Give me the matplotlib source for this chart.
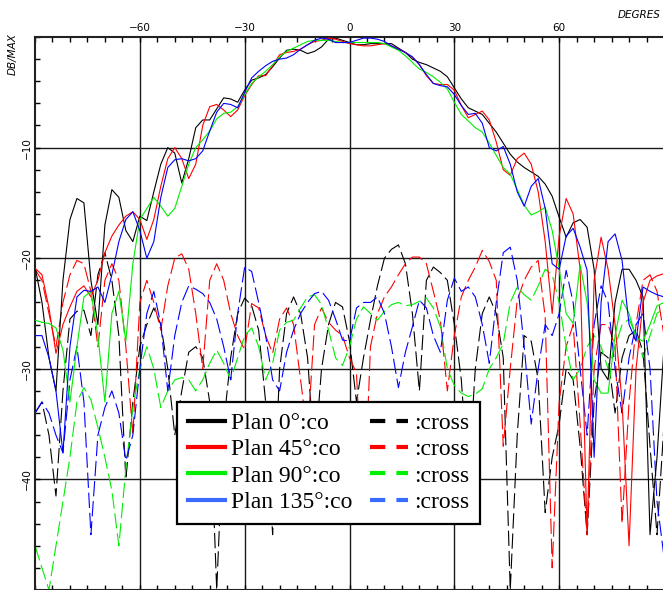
import numpy as np
import matplotlib
matplotlib.use("Agg")
import matplotlib.pyplot as plt
from matplotlib.lines import Line2D

plt.rcParams['lines.scale_dashes'] = False

# angles in degrees, one sample every 2 degrees
angles = np.arange(-90, 91, 2)

# co-polar cuts (dB / max)
black_co = [-20.8, -24, -29, -32, -22, -16.5, -14.6, -15, -22, -26,
            -17, -13.8, -14.5, -17.5, -18.5, -16.2, -16.6, -14, -11.5, -10,
            -10.5, -13.2, -11, -8.2, -7.5, -7.5, -6.5, -5.5, -5.6, -5.9,
            -4.8, -3.9, -3.7, -3.4, -2.7, -1.9, -1.2, -1.1, -1.2, -1.5,
            -1.3, -0.9, -0.2, -0.1, -0.3, -0.5, -0.7, -0.7, -0.6, -0.6,
            -0.6, -0.6, -1.0, -1.4, -2.0, -2.3, -2.5, -2.8, -3.1, -3.6,
            -4.6, -5.6, -6.4, -6.7, -7.0, -7.8, -8.6, -9.6, -10.6, -11.3,
            -11.8, -12.2, -12.6, -13.3, -14.4, -16.3, -18.1, -16.8, -16.5, -17.2,
            -21, -30, -31, -24, -21, -21, -22, -23.5, -45, -38,
            -28]
red_co = [-20.9, -21.5, -24.5, -28.6, -26, -24.4, -23, -22.5, -23.5, -22,
          -19.5, -18, -17, -16.2, -15.8, -16.5, -18.3, -16.5, -13.5, -11,
          -10, -11, -12.8, -11.5, -8, -6.3, -6.1, -6.6, -7.2, -6.6,
          -5.3, -4.3, -3.5, -3.5, -2.6, -1.6, -1.4, -1.3, -1.1, -0.7,
          -0.4, -0.3, -0.1, -0.2, -0.4, -0.6, -0.7, -0.8, -0.8, -0.7,
          -0.6, -0.8, -1.1, -1.4, -1.8, -2.5, -3.5, -4.2, -4.3, -4.3,
          -4.8, -6.2, -7.3, -7.0, -6.7, -7.5, -9.5, -12, -12.5, -11,
          -10.5, -11.5, -14, -18.5, -25, -18, -14.6, -16, -21, -45,
          -22, -18.1, -21, -26, -33, -46, -30, -24, -22, -21.6,
          -21.4]
green_co = [-25.6, -25.8, -25.9, -26.3, -28.3, -33, -28, -23.5, -23, -27,
            -33, -25, -23, -27.5, -20.5, -16.5, -15.5, -14.5, -15.3, -16.2,
            -15.5, -13.5, -11.5, -10, -9.3, -8.5, -7.4, -6.9, -6.8, -6.3,
            -5.2, -4.2, -3.6, -3.1, -2.5, -1.8, -1.3, -1.0, -0.7, -0.4,
            -0.3, -0.3, -0.3, -0.4, -0.5, -0.5, -0.5, -0.5, -0.5, -0.5,
            -0.6, -0.9, -1.2, -1.7, -2.3, -2.9, -3.2, -3.6, -4.1, -4.7,
            -5.9, -7.0, -7.6, -8.2, -8.6, -9.6, -10.7, -11.8, -12.4, -13.8,
            -15.2, -16.1, -15.8, -15.4, -17.5, -21, -25, -25.9, -20.6, -24,
            -31, -32.2, -32.2, -27, -23.8, -25, -27.2, -27.5, -26, -24.3,
            -24]
blue_co = [-27, -27, -29, -32, -37.6, -28, -23.5, -22.9, -23, -22.6,
           -24, -21.5, -18.5, -16.5, -15.8, -17.5, -20, -18.5, -14.5, -11.8,
           -11.1, -11, -11.2, -11, -10.3, -8.5, -6.8, -6, -6.1, -6.4,
           -5, -3.7, -3.1, -2.6, -2.2, -2.0, -1.9, -1.6, -1.1, -0.7,
           -0.3, -0.1, -0.2, -0.5, -0.5, -0.5, -0.3, -0.1, -0.1, -0.2,
           -0.4, -0.8, -1.1, -1.4, -1.8, -2.5, -3.4, -4.2, -4.4, -4.5,
           -5.2, -6.2, -7.0, -6.9, -7.8, -10, -10.3, -9.9, -11.5, -14,
           -15.3, -13.5, -12.8, -15.5, -20.5, -21, -18, -17.3, -19, -21.1,
           -38, -24, -18.5, -17.8, -20.2, -26, -27.5, -22.6, -23, -23.3,
           -23.5]

# cross-polar cuts (dB / max)
black_x = [-34, -33, -36, -41.5, -32, -25.5, -24.8, -24.7, -27, -21.5,
           -19.5, -22, -27, -40, -33, -28, -26, -24.5, -26, -30,
           -36, -32, -28.5, -28, -29, -33, -50, -35, -29, -25,
           -23.6, -24.3, -26.5, -33, -45, -30, -25, -23.5, -25, -29,
           -38, -30, -26, -24, -24.4, -27.5, -33, -29, -25.6, -22.5,
           -20, -19.2, -18.8, -20.5, -25, -32, -22, -20.8, -21.3, -22,
           -26, -31, -40, -30, -25, -23.5, -25, -29, -50, -36,
           -27, -27.5, -31, -43, -38, -35, -30, -31, -37, -45,
           -33, -28.5, -29, -34, -29, -27, -26.5, -28.5, -37, -45,
           -35]
red_x = [-21, -22, -25, -28, -24, -21.5, -20.2, -20.5, -23, -28,
         -22, -20.5, -22, -28, -36, -24, -22, -24, -26.5, -22.5,
         -20, -19.6, -21, -25, -30, -22, -20.5, -22, -25, -27,
         -28.3, -24.1, -24.5, -27, -28.6, -25.5, -24.5, -26, -31, -36,
         -26, -24.5, -25.8, -26.5, -27, -29, -30.4, -44, -28, -25,
         -23.5, -22.6, -21.5, -20.5, -19.9, -19.9, -20.5, -23, -25.6, -32,
         -27, -23.5, -22, -20.8, -19.3, -20.3, -22, -37, -30, -23.8,
         -22, -20.8, -20.2, -25.3, -48, -33, -28, -26, -35, -45,
         -30, -26, -26, -28, -44, -33, -26, -22, -21.5, -23,
         -27]
green_x = [-46, -48, -50, -46, -42, -38, -33, -31.7, -32.8, -35.3,
           -38, -41, -46, -39, -33.5, -30, -28, -30, -33.5, -32,
           -31, -30.8, -31, -32, -31, -29.5, -28.3, -29.5, -31, -29,
           -27, -26.3, -28, -31, -29.5, -26.5, -25.8, -25.6, -24.5, -23.5,
           -23.3, -24.2, -26.5, -29, -29.7, -28, -25.5, -24.4, -25, -25.6,
           -24.8, -24.2, -24, -24.3, -24.2, -23.9, -23.6, -24.5, -26.2, -30,
           -31.5, -32.2, -32.5, -32.3, -31.8, -30, -29, -27.7, -24, -22.6,
           -23.3, -23.8, -22.5, -21, -21.5, -24, -28, -31, -30, -28,
           -27, -28, -30, -28, -26, -25.5, -27, -29, -27, -25,
           -24.5]
blue_x = [-34, -33, -34, -36, -37.6, -31, -28, -33, -45, -36,
          -33.5, -32, -34, -38.3, -36, -30, -25, -23, -26, -32,
          -27, -24, -22.5, -22.8, -23.2, -24, -25.5, -28, -31, -25,
          -20.8, -21.2, -24, -27, -31, -32, -28.5, -26.5, -25, -24,
          -23.2, -23, -23.8, -25.5, -27.4, -27.5, -24.5, -24, -24, -23.5,
          -25, -28, -31.7, -28.5, -26.2, -23.8, -24.5, -27, -28.5, -23.8,
          -21.8, -23, -22.6, -23.5, -26, -29.5, -24, -19.5, -19, -22,
          -28, -35, -30, -26, -27, -25, -21.1, -24, -30, -36,
          -26, -22.5, -24, -30, -34, -29, -26, -25, -30, -42,
          -47]

labels = ['Plan 0°:co', 'Plan 45°:co', 'Plan 90°:co', 'Plan 135°:co']
colors = ['black', '#ff0000', '#00ee00', '#0000ff']
legend_colors = ['black', '#ff0000', '#00ee00', '#3a6bff']

fig = plt.figure(figsize=(6.63, 5.90), dpi=100)
ax = fig.add_axes([35 / 663, 0, 629 / 663, 553 / 590])

co_sets = [black_co, red_co, green_co, blue_co]
x_sets = [black_x, red_x, green_x, blue_x]

for vals, c in zip(x_sets, colors):
    ax.plot(angles, vals, color=c, lw=0.8, dashes=(11, 3.5), zorder=2)
for vals, c in zip(co_sets, colors):
    ax.plot(angles, vals, color=c, lw=0.8, zorder=3)

ax.set_xlim(-90, 90)
ax.set_ylim(-50, 0)

ax.set_xticks([-60, -30, 0, 30, 60])
ax.set_xticks(np.arange(-90, 91, 5), minor=True)
ax.set_yticks([-10, -20, -30, -40])
ax.set_yticks(np.arange(-50, 1, 2), minor=True)

ax.tick_params(axis='x', which='both', direction='in', top=True, bottom=True,
               labeltop=True, labelbottom=False, length=3.8, width=1,
               pad=3, labelsize=7.5)
ax.tick_params(axis='y', which='both', direction='in', left=True, right=False,
               length=3.8, width=1, pad=2, labelsize=7.5, labelrotation=90)
for lab in ax.get_yticklabels():
    lab.set_va('center')

ax.grid(True, which='major', color='#1a1a1a', lw=1.0, zorder=1)
ax.set_axisbelow(True)
for side in ['left', 'top', 'bottom']:
    ax.spines[side].set_linewidth(1.5)
    ax.spines[side].set_color('#222222')
ax.spines['right'].set_visible(False)

fig.text(661 / 663, 1 - 15 / 590, 'DEGRES', style='italic', fontsize=7.5,
         ha='right', va='center')
fig.text(13 / 663, 1 - 54 / 590, 'DB/MAX', style='italic', fontsize=7.5,
         ha='center', va='center', rotation=90)

handles = []
for c in legend_colors:
    handles.append(Line2D([0], [0], color=c, lw=3))
for c in legend_colors:
    handles.append(Line2D([0], [0], color=c, lw=3, dashes=(11, 8)))
leg_labels = labels + [':cross'] * 4

leg = ax.legend(handles, leg_labels, ncol=2, loc='upper left',
                bbox_to_anchor=((177 - 35) / 629, 1 - (402 - 37) / 553),
                prop={'family': 'Liberation Serif', 'size': 17},
                frameon=True, fancybox=False, framealpha=1,
                edgecolor='black', handlelength=1.6, handletextpad=0.25,
                columnspacing=0.75, labelspacing=0.2, borderpad=0.45,
                borderaxespad=0)
leg.get_frame().set_linewidth(1.6)
leg.set_zorder(10)

fig.savefig('out.png', dpi=100)
